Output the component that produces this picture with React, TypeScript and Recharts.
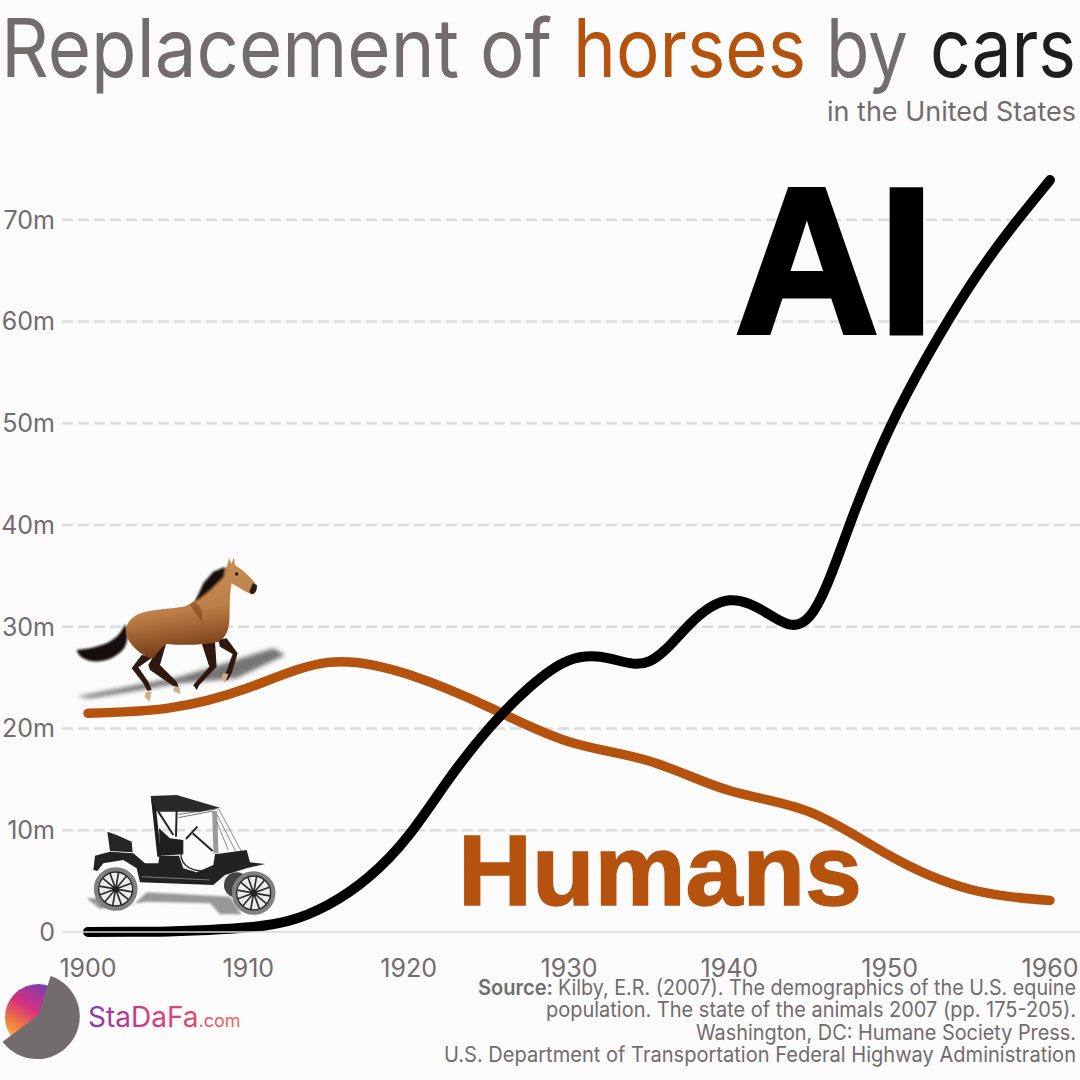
// Replacement of horses by cars, in the United States

import { LineChart, Line, XAxis, YAxis, CartesianGrid } from 'recharts';

const carYears = [1900, 1902.5, 1905, 1907.5, 1910, 1912.5, 1915, 1917.5, 1920, 1922.5, 1925, 1927.5, 1930, 1932.5, 1935, 1937.5, 1940, 1942.5, 1945, 1947.5, 1950, 1952.5, 1955, 1957.5, 1960];
const carValues = [0.01, 0.02, 0.06, 0.2, 0.46, 1.1, 2.7, 5.4, 9.5, 15, 20, 24, 26.7, 26.9, 26.6, 30.2, 32.6, 31.2, 31, 40, 49.5, 57, 63.5, 69, 73.9];
const horseYears = [1900, 1905, 1910, 1915, 1920, 1925, 1930, 1935, 1940, 1945, 1950, 1955, 1960];
const horseValues = [21.5, 22, 24, 26.5, 25.3, 22.1, 18.7, 16.8, 13.9, 11.8, 7.5, 4.2, 3.1];

const xTicks = [1900, 1910, 1920, 1930, 1940, 1950, 1960];
const yTicks = [0, 10, 20, 30, 40, 50, 60, 70];
const gridValues = [10, 20, 30, 40, 50, 60, 70];

const sourceLines = [
  'Kilby, E.R. (2007). The demographics of the U.S. equine',
  'population. The state of the animals 2007 (pp. 175-205).',
  'Washington, DC: Humane Society Press.',
  'U.S. Department of Transportation Federal Highway Administration',
];

const carData = carYears.map((year, i) => ({ year, value: carValues[i] }));
const horseData = horseYears.map((year, i) => ({ year, value: horseValues[i] }));

const GREY = '#726c6c';
const ORANGE = '#b5530e';
const FONT = 'Inter, "Noto Sans", sans-serif';
const HEAVY = '"Liberation Sans", Arial, sans-serif';

function Wheel({ cx, cy }: { cx: number; cy: number }) {
  const spokes = [0, 30, 60, 90, 120, 150];
  return (
    <g>
      <circle cx={cx} cy={cy} r={59} fill="#ececec" stroke="#808080" strokeWidth={13} />
      <circle cx={cx} cy={cy} r={51} fill="none" stroke="#222" strokeWidth={4} />
      {spokes.map((a) => (
        <line
          key={a}
          x1={cx}
          y1={cy - 50}
          x2={cx}
          y2={cy + 50}
          stroke="#2a2a2a"
          strokeWidth={5}
          transform={`rotate(${a + 10} ${cx} ${cy})`}
        />
      ))}
      <circle cx={cx} cy={cy} r={10} fill="#222" />
    </g>
  );
}

// drawn in the coordinates of a 3x crop, hence the scale on the group
function Horse() {
  return (
    <g transform="translate(70 550) scale(0.3333)">
      <path
        d="M20 440 L200 405 L330 380 L480 335 L610 295 L645 315 L500 385 L330 400 L180 425 L60 445 Z"
        fill="#3c3c3c"
        opacity={0.7}
        filter="url(#soft)"
      />
      <path
        d="M165 222 C150 260 120 290 20 300 C30 340 100 345 140 315 C165 300 175 280 172 240 Z"
        fill="#17100e"
        filter="url(#fuzz)"
      />
      <g fill="#2e1810">
        <path d="M215 315 L250 320 L215 345 L205 352 L235 395 L245 420 L232 422 L220 400 L185 355 Z" />
        <path d="M270 285 L288 282 L270 345 L320 395 L326 412 L310 408 L240 360 L235 345 Z" />
        <path d="M395 280 L435 275 L440 350 L388 405 L380 420 L370 405 L418 350 Z" />
        <path d="M445 270 L470 265 L503 310 L485 370 L472 392 L462 385 L478 340 L488 312 L450 290 Z" />
      </g>
      <g fill="#cfae8c">
        <path d="M228 425 L245 425 L238 455 L224 440 Z" />
        <path d="M312 408 L328 412 L332 432 L310 424 Z" />
        <path d="M458 370 L475 372 L466 398 L456 388 Z" />
      </g>
      <path
        d="M370 155 C400 120 430 80 470 50 L478 25 L484 42 L492 22 L495 45 C520 60 545 85 560 105 C563 120 555 132 545 133 C525 125 505 112 485 100 C478 130 480 180 478 215 C475 245 465 265 445 275 C420 282 350 288 290 282 C275 290 265 305 250 325 C235 328 195 305 172 265 C162 235 172 208 205 193 C240 176 300 178 340 170 C355 166 362 160 370 155 Z"
        fill="url(#horseFill)"
      />
      <path d="M465 50 L430 65 L400 100 L375 155 L420 120 L460 80 Z" fill="#15100e" filter="url(#fuzz)" />
      <path d="M370 155 C395 165 400 190 395 215 C385 200 370 180 360 165 Z" fill="#7c4520" opacity={0.6} />
      <path d="M545 133 C555 132 563 120 560 105 L548 100 L538 125 Z" fill="#2a1c18" />
      <circle cx={500} cy={72} r={5} fill="#1c1210" />
    </g>
  );
}

function Car() {
  return (
    <g transform="translate(80 785) scale(0.3333)">
      <path
        d="M20 340 L60 372 L200 350 L390 355 L420 388 L485 388 L450 335 L200 322 L160 360 L60 340 Z"
        fill="#777"
        opacity={0.75}
        filter="url(#fuzz)"
      />
      <circle cx={470} cy={300} r={38} fill="#444" />
      <g fill="none" stroke="#262626">
        <line x1={235} y1={80} x2={280} y2={150} strokeWidth={6} />
        <line x1={290} y1={75} x2={288} y2={155} strokeWidth={6} />
        <line x1={295} y1={98} x2={400} y2={78} strokeWidth={3} stroke="#777" />
        <line x1={295} y1={88} x2={410} y2={72} strokeWidth={3} stroke="#777" />
        <line x1={404} y1={78} x2={408} y2={205} strokeWidth={15} stroke="#9a9a9a" />
        <line x1={415} y1={70} x2={490} y2={210} strokeWidth={2} stroke="#555" />
        <line x1={412} y1={90} x2={470} y2={205} strokeWidth={2} stroke="#555" />
        <line x1={410} y1={110} x2={445} y2={195} strokeWidth={2} stroke="#555" />
        <line x1={318} y1={162} x2={352} y2={125} strokeWidth={6} />
        <line x1={338} y1={145} x2={398} y2={198} strokeWidth={6} />
        <path d="M305 190 C295 230 320 260 380 258" strokeWidth={4} />
      </g>
      <path d="M212 33 L290 30 L420 68 L360 80 L230 80 L218 70 Z" fill="#29292c" />
      <path d="M213 40 L232 215 L244 215 L228 70 Z" fill="#1e1e1e" />
      <path d="M237 130 L270 160 L310 165 L310 208 L240 212 Z" fill="#202020" />
      <path d="M82 140 L110 150 L155 170 L158 202 L90 198 Z" fill="#252525" />
      <path
        d="M45 212 L90 200 L160 205 L195 235 L235 235 L238 212 L297 212 L310 250 L350 262 L400 240 L405 208 L500 195 L510 232 L555 237 L500 250 L435 270 L400 300 L180 292 L170 250 L130 225 L70 235 L52 258 L40 255 Z"
        fill="#222"
      />
      <line x1={185} y1={275} x2={390} y2={285} stroke="#7a7a7a" strokeWidth={3} />
      <Wheel cx={107} cy={312} />
      <Wheel cx={521} cy={324} />
    </g>
  );
}

function Logo() {
  return (
    <g transform="translate(0 930) scale(0.3333)">
      <circle cx={115} cy={262} r={100} fill="url(#logoFill)" />
      <path d="M115 255 L152 138 A128 128 0 1 1 8 335 Z" fill={GREY} />
    </g>
  );
}

export default function App() {
  return (
    <div style={{ position: 'absolute', left: 0, top: 0, width: 1080, height: 1080, background: '#fbfbfb', overflow: 'hidden' }}>
      <div style={{ position: 'absolute', left: 0, top: 0 }}>
        <LineChart width={1080} height={1080} margin={{ top: 118, right: 0, bottom: 0, left: 0 }}>
          <CartesianGrid
            vertical={false}
            horizontalValues={gridValues}
            stroke="#dcdcdc"
            strokeWidth={2.5}
            strokeDasharray="11 5"
          />
          <XAxis
            type="number"
            dataKey="year"
            domain={[1900, 1960]}
            ticks={xTicks}
            interval={0}
            padding={{ left: 26, right: 30 }}
            height={148}
            tickLine={false}
            tickSize={0}
            tickMargin={27}
            axisLine={{ stroke: '#d8d8d8', strokeWidth: 1.5 }}
            tick={{ fill: GREY, fontSize: 25, fontFamily: FONT }}
          />
          <YAxis
            type="number"
            domain={[0, 80]}
            ticks={yTicks}
            interval={0}
            width={62}
            tickLine={false}
            axisLine={false}
            tickSize={0}
            tickMargin={7}
            tickFormatter={(v: number) => (v === 0 ? '0' : `${v}m`)}
            tick={{ fill: GREY, fontSize: 25, fontFamily: FONT }}
          />
          <Line
            data={horseData}
            dataKey="value"
            type="natural"
            stroke={ORANGE}
            strokeWidth={9.5}
            strokeLinecap="round"
            dot={false}
            isAnimationActive={false}
          />
          <Line
            data={carData}
            dataKey="value"
            type="natural"
            stroke="#000"
            strokeWidth={10}
            strokeLinecap="round"
            dot={false}
            isAnimationActive={false}
          />
        </LineChart>
      </div>

      <svg width={1080} height={1080} style={{ position: 'absolute', left: 0, top: 0, pointerEvents: 'none' }}>
        <defs>
          <filter id="soft" x="-20%" y="-50%" width="140%" height="200%">
            <feGaussianBlur stdDeviation="6" />
          </filter>
          <filter id="fuzz" x="-20%" y="-20%" width="140%" height="140%">
            <feGaussianBlur stdDeviation="3" />
          </filter>
          <linearGradient id="horseFill" x1="0.2" y1="0" x2="0.4" y2="1">
            <stop offset="0%" stopColor="#c9935c" />
            <stop offset="55%" stopColor="#bd7f47" />
            <stop offset="100%" stopColor="#6f3513" />
          </linearGradient>
          <linearGradient id="logoFill" x1="0.7" y1="0" x2="0.1" y2="1">
            <stop offset="0%" stopColor="#6a3fb8" />
            <stop offset="40%" stopColor="#d5307f" />
            <stop offset="70%" stopColor="#f3813c" />
            <stop offset="100%" stopColor="#fde27a" />
          </linearGradient>
          <linearGradient id="brandFill" x1="0" y1="0" x2="1" y2="0">
            <stop offset="0%" stopColor="#7d3fae" />
            <stop offset="35%" stopColor="#d23a83" />
            <stop offset="70%" stopColor="#df4a6a" />
            <stop offset="100%" stopColor="#ee6a62" />
          </linearGradient>
        </defs>

        <g fontFamily={FONT} fontSize={81}>
          <text x={1} y={77} fill={GREY} textLength={551} lengthAdjust="spacingAndGlyphs">Replacement of</text>
          <text x={573} y={77} fill={ORANGE} textLength={233} lengthAdjust="spacingAndGlyphs">horses</text>
          <text x={826} y={77} fill={GREY} textLength={82} lengthAdjust="spacingAndGlyphs">by</text>
          <text x={930} y={77} fill="#1e1e1e" textLength={146} lengthAdjust="spacingAndGlyphs">cars</text>
        </g>
        <text x={827} y={121} fontFamily={FONT} fontSize={27} fill={GREY} textLength={249} lengthAdjust="spacingAndGlyphs">in the United States</text>

        <text x={735} y={333} fontFamily={HEAVY} fontWeight={700} fontSize={207} fill="#000" stroke="#000" strokeWidth={5} textLength={199} lengthAdjust="spacingAndGlyphs">AI</text>
        <text x={458} y={905} fontFamily={HEAVY} fontWeight={700} fontSize={100} fill={ORANGE} stroke={ORANGE} strokeWidth={1.5} textLength={404} lengthAdjust="spacingAndGlyphs">Humans</text>

        <Horse />
        <Car />
        <Logo />

        <text x={88} y={1027} fontFamily={FONT} fill="url(#brandFill)">
          <tspan fontSize={28}>StaDaFa</tspan>
          <tspan fontSize={18}>.com</tspan>
        </text>

        <g fontFamily={FONT} fontSize={21} fill={GREY}>
          <text x={478} y={995} fontWeight={600} textLength={75} lengthAdjust="spacingAndGlyphs">Source:</text>
          <text x={558} y={995} textLength={518} lengthAdjust="spacingAndGlyphs">{sourceLines[0]}</text>
          <text x={546} y={1017} textLength={530} lengthAdjust="spacingAndGlyphs">{sourceLines[1]}</text>
          <text x={696} y={1040} textLength={380} lengthAdjust="spacingAndGlyphs">{sourceLines[2]}</text>
          <text x={444} y={1062} textLength={632} lengthAdjust="spacingAndGlyphs">{sourceLines[3]}</text>
        </g>
      </svg>
    </div>
  );
}
